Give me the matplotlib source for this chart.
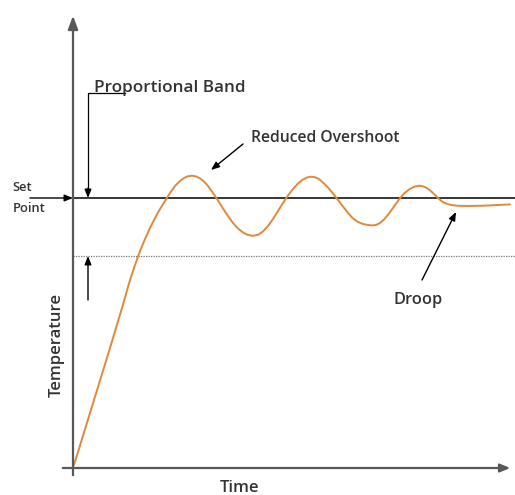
#!/usr/bin/env python3
"""Proportional control response: temperature vs time with droop."""

import matplotlib

matplotlib.use("Agg")
import matplotlib.pyplot as plt

# response curve (time, temperature in chart units)
time = [1, 13, 25, 37, 49, 57, 62, 67, 72, 77, 82, 87, 92, 97, 102, 107,
        111, 115, 119, 123, 127, 131, 135, 140, 145, 150, 155, 160, 165,
        170, 175, 180, 185, 190, 195, 200, 205, 210, 215, 220, 225, 230,
        234, 238, 242, 246, 250, 255, 260, 265, 270, 275, 280, 285, 290,
        295, 299, 303, 307, 311, 316, 321, 326, 331, 336, 341, 345, 348,
        352, 356, 360, 365, 369, 373, 378, 385, 395, 410, 425, 437]
temperature = [3, 42, 81, 120, 160, 188, 203, 217, 229, 240, 250, 259,
               267, 275, 282, 287, 290, 291.8, 292.3, 291.6, 289.6, 286.5,
               282, 275, 267.5, 259.5, 252, 245, 239.5, 235.5, 233, 232.2,
               233.2, 236.5, 242, 249, 257, 265, 272.5, 279, 284.5, 288.5,
               290.5, 291.3, 290.8, 289, 285.5, 280.5, 274.5, 268, 261.5,
               255, 249.5, 246, 244, 243, 242.6, 243, 245, 248.5, 254.5,
               261.5, 268.5, 274.5, 278.5, 281.2, 282.2, 282.2, 281,
               278.5, 275, 270, 266.5, 264.5, 263, 262.2, 262, 262.3, 263,
               263.6]

set_point = 270
band_low = 212

AXIS = "#585858"
TEXT = "#333333"
CURVE = "#e0893a"
FONT = "Open Sans"

fig = plt.figure(figsize=(5.15, 4.95), dpi=100)
ax = fig.add_axes([0, 0, 1, 1])
ax.set_xlim(-73, 442)
ax.set_ylim(-27, 468)
ax.axis("off")

# axes drawn as arrows
ax.annotate("", xy=(0, 455), xytext=(0, -10),
            arrowprops=dict(arrowstyle="-|>,head_length=0.8,head_width=0.3",
                            color=AXIS, lw=1.6))
ax.annotate("", xy=(440, 0), xytext=(-13, 0),
            arrowprops=dict(arrowstyle="-|>,head_length=0.6,head_width=0.25",
                            color=AXIS, lw=1.6))

# set point and proportional band lines
ax.plot([0, 442], [set_point, set_point], color="black", lw=1.1)
ax.plot([0, 442], [band_low, band_low], color="#777777", lw=0.9,
        linestyle=(0, (1, 1)))

# response curve
ax.plot(time, temperature, color=CURVE, lw=1.4, solid_joinstyle="round",
        solid_capstyle="round")

arrow = dict(arrowstyle="-|>,head_length=0.5,head_width=0.2", color="black",
             lw=1.0, shrinkA=0, shrinkB=0)
label = dict(color=TEXT, family=FONT, fontweight="semibold")

# set point marker
ax.annotate("", xy=(0, set_point), xytext=(-43, set_point), arrowprops=arrow)
ax.text(-61, 277, "Set", fontsize=9.3, ha="left", va="baseline", **label)
ax.text(-60, 256, "Point", fontsize=9.3, ha="left", va="baseline", **label)

# proportional band bracket
ax.plot([15, 15, 52], [set_point + 6, 375, 375], color="black", lw=0.9)
ax.annotate("", xy=(15, set_point), xytext=(15, set_point + 10),
            arrowprops=arrow)
ax.annotate("", xy=(15, band_low), xytext=(15, 168), arrowprops=arrow)
ax.text(21, 375.5, "Proportional Band", fontsize=12.3, ha="left",
        va="baseline", **label)

# overshoot label
ax.annotate("", xy=(138, 298), xytext=(170, 324), arrowprops=arrow)
ax.text(178, 326, "Reduced Overshoot", fontsize=11.3, ha="left",
        va="baseline", **label)

# droop label
ax.annotate("", xy=(383, 256), xytext=(349, 188), arrowprops=arrow)
ax.text(345, 164, "Droop", fontsize=11.8, ha="center", va="baseline",
        **label)

# axis titles
ax.text(-16, 123, "Temperature", fontsize=12, rotation=90, ha="center",
        va="center", **label)
ax.text(167, -20, "Time", fontsize=12, ha="center", va="center", **label)

fig.savefig("out.png", dpi=100)
